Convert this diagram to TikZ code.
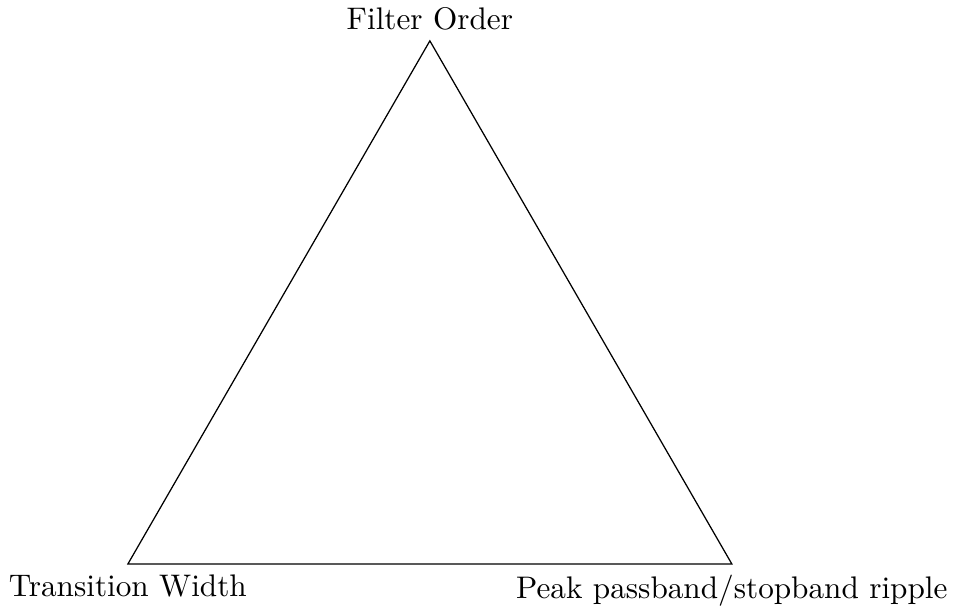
\documentclass[tikz,border=0pt]{standalone}
\usepackage{tikz}

\begin{document}
\begin{tikzpicture}
    \useasboundingbox (-1.44,-0.48) rectangle (9.29,6.35);

    % Corners of the trade-off triangle
    \coordinate (order) at (3.4,5.89);
    \coordinate (width) at (0,0);
    \coordinate (ripple) at (6.8,0);

    \draw (width) -- (ripple) -- (order) -- cycle;

    % Corner labels
    \node[above] (orderlabel) at (order) {Filter Order};
    \node[below] (widthlabel) at (width) {Transition Width};
    \node[below] (ripplelabel) at (ripple) {Peak passband/stopband ripple};
\end{tikzpicture}
\end{document}
